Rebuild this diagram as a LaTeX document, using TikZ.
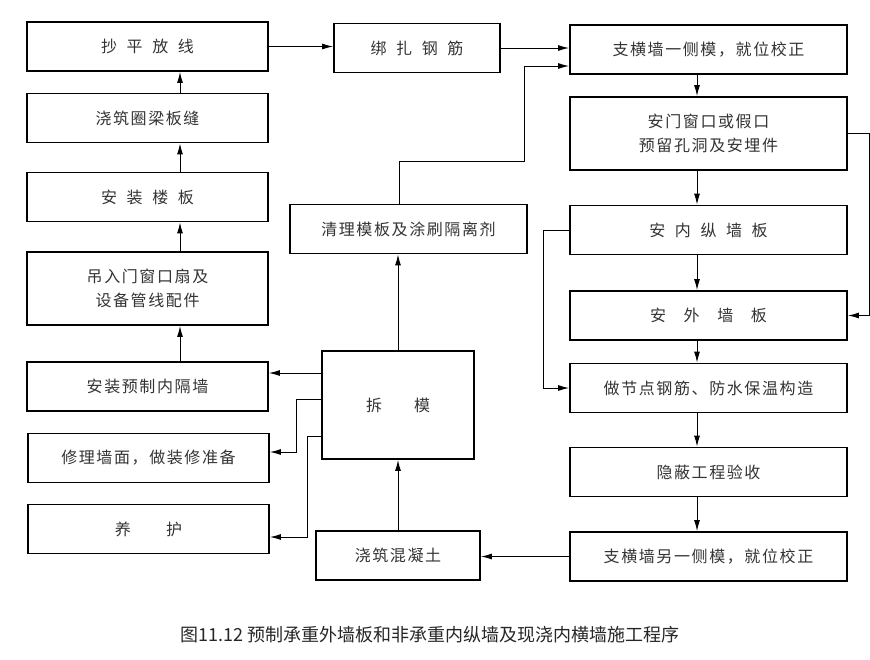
\documentclass[tikz,border=0pt]{standalone}
\usepackage{fontspec}
\newfontfamily\cjk[LetterSpace=10]{Noto Sans CJK SC}
\newfontfamily\cjkcap{Noto Sans CJK SC}
\usetikzlibrary{arrows.meta}
\begin{document}
\begin{tikzpicture}[x=1pt, y=-1pt,
        box/.style={draw, line width=1.8pt, minimum height=49pt, inner sep=0pt, align=center,
                    text=black!80, font=\cjk\fontsize{16}{24}\selectfont},
        lbox/.style={box, minimum width=241pt},
        rbox/.style={box, minimum width=277pt},
        flow/.style={line width=1pt, -{Latex[length=11pt,width=6pt]}}]
    \useasboundingbox (0,0) rectangle (870,659);
    \coordinate (lx) at (180,0);
    \coordinate (rx) at (697,0);

    \node[lbox] (a1) at (147.5,46.5) {抄\hspace{0.6em}平\hspace{0.6em}放\hspace{0.6em}线};
    \node[lbox] (a2) at (147.5,118) {浇筑圈梁板缝};
    \node[lbox] (a3) at (147.5,197) {安\hspace{0.6em}装\hspace{0.6em}楼\hspace{0.6em}板};
    \node[lbox, minimum height=73pt] (a4) at (147.5,288.5) {吊入门窗口扇及\\设备管线配件};
    \node[lbox] (a5) at (147.5,386.5) {安装预制内隔墙};
    \node[lbox] (a6) at (148.5,458) {修理墙面，做装修准备};
    \node[lbox] (a7) at (148.5,529) {养\hspace{2.2em}护};

    \node[box, minimum width=166pt] (b1) at (417,48) {绑\hspace{0.6em}扎\hspace{0.6em}钢\hspace{0.6em}筋};
    \node[box, minimum width=237pt] (b2) at (408.5,229) {清理模板及涂刷隔离剂};
    \node[box, minimum width=152pt, minimum height=108pt] (b3) at (398,405) {拆\hspace{2em}模};
    \node[box, minimum width=164pt] (b4) at (398,555.5) {浇筑混凝土};

    \node[rbox] (c1) at (708.5,49.5) {支横墙一侧模，就位校正};
    \node[rbox, minimum height=73pt] (c2) at (708.5,133.5) {安门窗口或假口\\预留孔洞及安埋件};
    \node[rbox] (c3) at (708.5,230) {安\hspace{0.6em}内\hspace{0.6em}纵\hspace{0.6em}墙\hspace{0.6em}板};
    \node[rbox] (c4) at (708.5,315.5) {安\hspace{1.1em}外\hspace{1.1em}墙\hspace{1.1em}板};
    \node[rbox] (c5) at (708.5,388) {做节点钢筋、防水保温构造};
    \node[rbox] (c6) at (708.5,472) {隐蔽工程验收};
    \node[rbox] (c7) at (708.5,556.5) {支横墙另一侧模，就位校正};

    \node[font=\cjkcap\fontsize{18}{20}\selectfont, text=black!85] (cap) at (430,635)
        {图11.12 预制承重外墙板和非承重内纵墙及现浇内横墙施工程序};

    \foreach \u/\v in {a2/a1,a3/a2,a4/a3,a5/a4}
        \draw[flow] (\u.north -| lx) -- (\v.south -| lx);
    \foreach \u/\v in {c1/c2,c2/c3,c3/c4,c4/c5,c5/c6,c6/c7}
        \draw[flow] (\u.south -| rx) -- (\v.north -| rx);

    \draw[flow] (a1.east) -- (a1.east -| b1.west);
    \draw[flow] (b1.east) -- (b1.east -| c1.west);
    \coordinate (bend) at (524,66);
    \draw[flow] ([xshift=-9.5pt]b2.north) -- ++(0,-42) -| (bend) -- (bend -| c1.west);
    \draw[flow] (b3.north) -- (b3.north |- b2.south);
    \draw[flow] (b4.north) -- (b3.south);
    \draw[flow] (c7.west) -- (c7.west -| b4.east);

    \draw[flow] ([yshift=32pt]b3.west) coordinate (t1) -- (t1 -| a5.east);
    \draw[flow] ([yshift=6pt]b3.west) -- ++(-25,0) |- ([yshift=6pt]a6.east);
    \draw[flow] ([yshift=-31pt]b3.west) -- ++(-14,0) |- ([yshift=-8pt]a7.east);

    \draw[flow] (c2.east) -- ++(22,0) |- (c4.east);
    \draw[flow] (c3.west) -- ++(-26,0) |- (c5.west);
\end{tikzpicture}
\end{document}
